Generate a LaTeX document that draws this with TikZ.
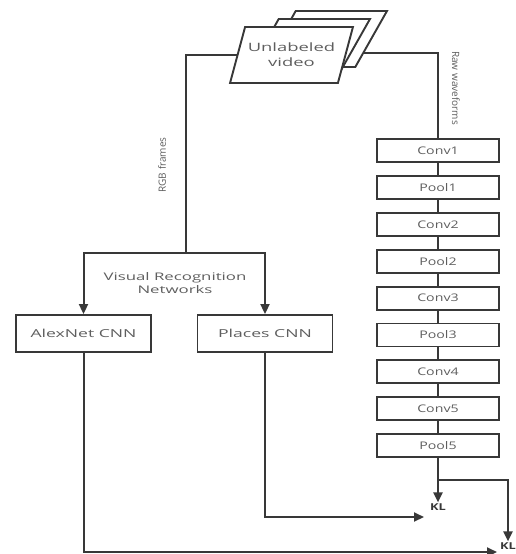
\documentclass[tikz,border=0pt]{standalone}
\usepackage{fontspec}
\setmainfont{Open Sans}
\newfontfamily\widefont[FakeStretch=1.35]{Open Sans}
\newfontfamily\cnnfont[FakeStretch=1.6]{Open Sans}
\usetikzlibrary{arrows.meta, positioning, calc, shapes.geometric}
\definecolor{linegray}{HTML}{383838}
\definecolor{textgray}{HTML}{5E5E5E}

\begin{document}
\begin{tikzpicture}[x=1pt, y=-1pt,
		line/.style={line width=2pt, color=linegray},
		arrow/.style={line, -{Triangle[length=10pt, width=9pt]}},
		layer/.style={
			draw=linegray,
			line width=1.9pt,
			rectangle,
			minimum width=122pt,
			minimum height=23pt,
			inner sep=0pt,
			font=\widefont\fontsize{10.5}{12}\selectfont,
			text=textgray
		},
		cnn/.style={
			layer,
			minimum width=135pt,
			minimum height=37pt,
			font=\cnnfont\fontsize{11}{12}\selectfont
		},
		frame/.style={
			draw=linegray,
			line width=1.9pt,
			fill=white,
			trapezium,
			trapezium left angle=62,
			trapezium right angle=118,
			trapezium stretches=true,
			minimum width=123pt,
			minimum height=56pt,
			inner sep=2pt,
			align=center,
			font=\cnnfont\fontsize{11.5}{15}\selectfont,
			text=textgray
		},
		tag/.style={font=\fontsize{10}{12}\selectfont, text=textgray, inner sep=0pt},
		kl/.style={font=\widefont\bfseries\fontsize{9.5}{10}\selectfont, text=linegray, inner sep=1pt}
		]
		\useasboundingbox (0,0) rectangle (516,554);
		
		% --- Video stack ---
		\node[frame] (vid3) at (325.5,39) {};
		\node[frame] (vid2) at (308.5,47) {};
		\node[frame] (vid) at (291.5,55) {Unlabeled\\video};
		
		% --- Audio network ---
		\node[layer] (conv1) at (438,150.5) {Conv1};
		\node[layer, below=12pt of conv1] (pool1) {Pool1};
		\node[layer, below=12pt of pool1] (conv2) {Conv2};
		\node[layer, below=12pt of conv2] (pool2) {Pool2};
		\node[layer, below=12pt of pool2] (conv3) {Conv3};
		\node[layer, below=12pt of conv3] (pool3) {Pool3};
		\node[layer, below=12pt of pool3] (conv4) {Conv4};
		\node[layer, below=12pt of conv4] (conv5) {Conv5};
		\node[layer, below=12pt of conv5] (pool5) {Pool5};
		
		% --- Visual networks ---
		\node[cnn] (alex) at (83.5,333.5) {AlexNet CNN};
		\node[cnn] (places) at (265,333.5) {Places CNN};
		\coordinate (split) at (186,253);
		\node[tag, align=center, font=\cnnfont\fontsize{10.5}{12.5}\selectfont] (vrn) at (175,283) {Visual Recognition\\Networks};
		
		% --- Stream labels ---
		\node[tag, rotate=90] (rgb) at (162,165) {RGB frames};
		\node[tag, rotate=-90] (raw) at (456,88) {Raw waveforms};
		
		% --- Losses ---
		\node[kl] (kl1) at (438,507) {KL};
		\node[kl] (kl2) at (508,546) {KL};
		\coordinate (fork) at (438,480);
		\coordinate (placesend) at (424,517);
		\coordinate (alexend) at (497,552);
		
		% --- Connections ---
		\draw[line] (vid.left side) -| (split);
		\draw[arrow] (split) -| (alex);
		\draw[arrow] (split) -| (places);
		\draw[line] ($(vid3.bottom right corner)!0.25!(vid3.top right corner)$) -| (conv1);
		\draw[line] (conv1) -- (pool1);
		\draw[line] (pool1) -- (conv2);
		\draw[line] (conv2) -- (pool2);
		\draw[line] (pool2) -- (conv3);
		\draw[line] (conv3) -- (pool3);
		\draw[line] (pool3) -- (conv4);
		\draw[line] (conv4) -- (conv5);
		\draw[line] (conv5) -- (pool5);
		\draw[arrow] (pool5) -- (kl1);
		\draw[arrow] (fork) -| (kl2);
		\draw[arrow] (places) |- (placesend);
		\draw[arrow] (alex) |- (alexend);
		
	\end{tikzpicture}
\end{document}
